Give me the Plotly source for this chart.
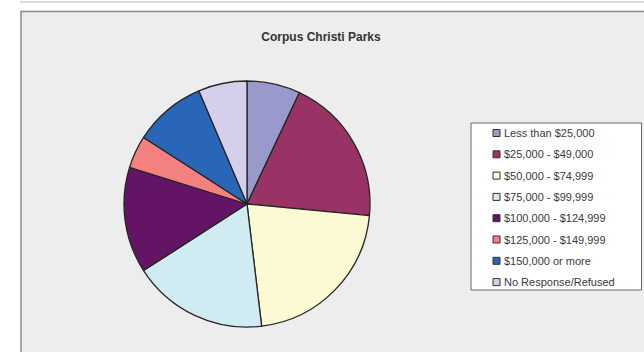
import plotly.graph_objects as go

# ---- data ----
categories = [
    "Less than $25,000",
    "$25,000 - $49,000",
    "$50,000 - $74,999",
    "$75,000 - $99,999",
    "$100,000 - $124,999",
    "$125,000 - $149,999",
    "$150,000 or more",
    "No Response/Refused",
]
values = [7.0, 19.5, 21.6, 17.8, 13.9, 4.3, 9.5, 6.4]
colors = ["#9999CC", "#993366", "#FCFAD2", "#D0ECF2",
          "#641464", "#F58080", "#2A66B8", "#D4D0EC"]
title_text = "Corpus Christi Parks"

W, H = 644, 352
def px(x):
    return x / W
def py(y):
    return 1 - y / H

fig = go.Figure()
fig.add_trace(go.Pie(
    labels=categories,
    values=values,
    marker=dict(colors=colors, line=dict(color="#262626", width=1.3)),
    sort=False,
    direction="clockwise",
    rotation=0,
    textinfo="none",
    hoverinfo="label+percent",
    showlegend=False,
    domain=dict(x=[px(124), px(370)], y=[py(327), py(81)]),
))

shapes = [
    # faint top strip line
    dict(type="line", xref="paper", yref="paper", x0=px(20), x1=px(644),
         y0=py(2), y1=py(2), line=dict(color="#dcdcdc", width=2), layer="below"),
    # chart area
    dict(type="rect", xref="paper", yref="paper", x0=px(21), x1=px(660),
         y0=py(370), y1=py(11.5), fillcolor="#EDEDED",
         line=dict(color="#8a8a8a", width=1.5), layer="below"),
    # legend box
    dict(type="rect", xref="paper", yref="paper", x0=px(471), x1=px(641.5),
         y0=py(290), y1=py(123), fillcolor="#FFFFFF",
         line=dict(color="#6a6a6a", width=1), layer="below"),
]
annotations = []
for i, (lab, col) in enumerate(zip(categories, colors)):
    yc = 133 + i * 21.3
    shapes.append(dict(type="rect", xref="paper", yref="paper",
                       x0=px(493), x1=px(500), y0=py(yc + 3.5), y1=py(yc - 3.5),
                       fillcolor=col, line=dict(color="#333333", width=1)))
    annotations.append(dict(text=lab, xref="paper", yref="paper",
                            x=px(501.5), y=py(yc), xanchor="left", yanchor="middle",
                            showarrow=False,
                            font=dict(family="Liberation Sans, Arial, sans-serif",
                                      size=11, color="#3a3a3a")))

fig.update_layout(
    width=W, height=H,
    margin=dict(l=0, r=0, t=0, b=0),
    paper_bgcolor="#FFFFFF",
    plot_bgcolor="#FFFFFF",
    title=dict(text="<b>" + title_text + "</b>", x=px(321), y=py(37),
               xanchor="center", yanchor="middle",
               font=dict(family="Liberation Sans, Arial, sans-serif", size=12,
                         color="#333333")),
    shapes=shapes,
    annotations=annotations,
    showlegend=False,
)

fig.write_html("out.html",
               config={"displayModeBar": False},
               post_script="document.body.style.margin='0';document.body.style.overflow='hidden';")
